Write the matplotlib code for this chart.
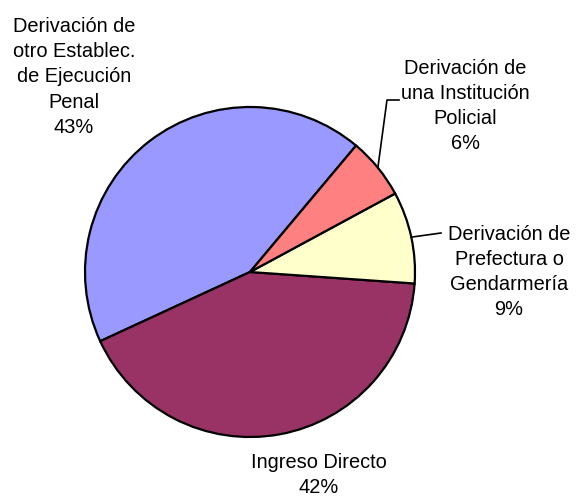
"""Distribución de ingresos por procedencia: gráfico circular con etiquetas externas."""

import matplotlib

matplotlib.use("Agg")
import matplotlib.pyplot as plt
import numpy as np

labels = [
    "Derivación de\notro Establec.\nde Ejecución\nPenal",
    "Ingreso Directo",
    "Derivación de\nPrefectura o\nGendarmería",
    "Derivación de\nuna Institución\nPolicial",
]
shares = [43, 42, 9, 6]
colors = ["#9999FF", "#993366", "#FFFFCC", "#FF8080"]

plt.rcParams["font.family"] = ["Liberation Sans Narrow", "Liberation Sans", "DejaVu Sans"]

fig = plt.figure(figsize=(5.76, 5.0), dpi=100)
ax = fig.add_axes([0, 0, 1, 1])

center = (250, 228)
radius = 165
wedges, _ = ax.pie(
    shares,
    colors=colors,
    startangle=50,
    counterclock=True,
    center=center,
    radius=radius,
    frame=True,
    wedgeprops=dict(edgecolor="black", linewidth=1.6),
)
ax.set_xlim(0, 576)
ax.set_ylim(0, 500)
ax.set_aspect("equal")
ax.axis("off")

# posiciones de las etiquetas (en píxeles, y desde abajo)
label_pos = [(74, 423), (319, 25), (509, 228), (465, 394)]
text_kw = dict(ha="center", va="center", fontsize=14.4, linespacing=1.42)
for wedge, label, share, pos in zip(wedges, labels, shares, label_pos):
    ax.text(pos[0], pos[1], f"{label}\n{share}%", **text_kw)


def edge_point(wedge):
    mid = np.deg2rad((wedge.theta1 + wedge.theta2) / 2)
    return center[0] + radius * np.cos(mid), center[1] + radius * np.sin(mid)


# línea guía de "Policial"
px, py = edge_point(wedges[3])
ax.plot([px, 387, 399], [py, 400, 400], color="black", linewidth=1.2)

# línea guía de "Prefectura"
px, py = edge_point(wedges[2])
ax.plot([px, 441], [py, 267], color="black", linewidth=1.2)

fig.savefig("out.png", dpi=100)
